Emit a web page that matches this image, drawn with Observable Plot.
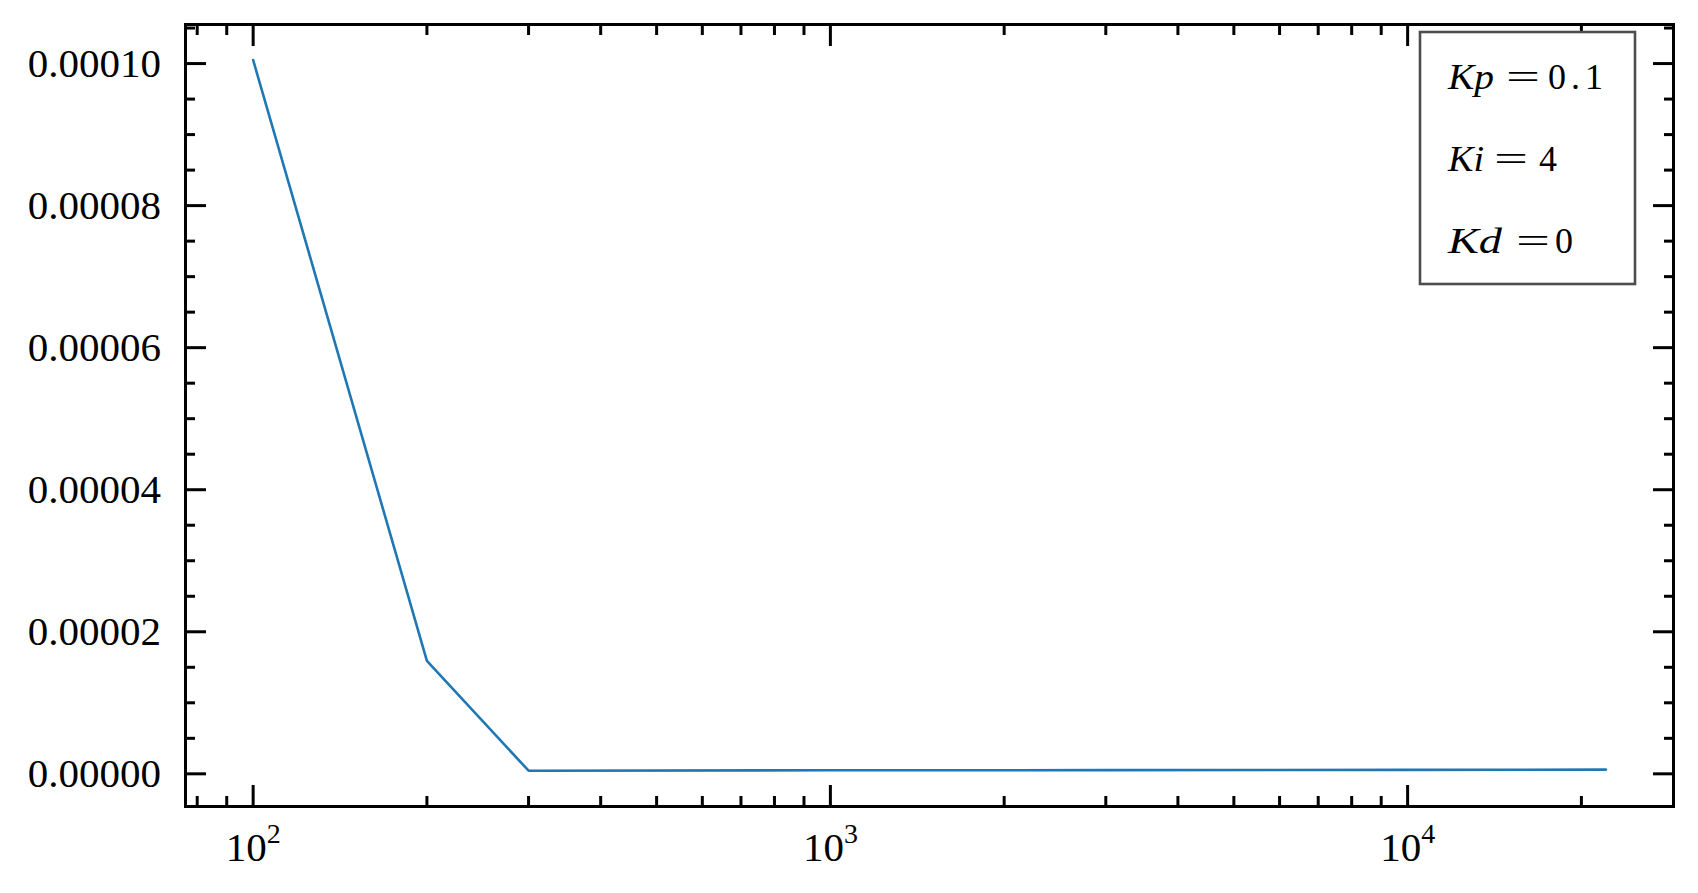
<!DOCTYPE html>
<html>
<head>
<meta charset="utf-8">
<script src="https://cdn.jsdelivr.net/npm/d3@7"></script>
<script src="https://cdn.jsdelivr.net/npm/@observablehq/plot@0.6"></script>
<style>
  html, body { margin: 0; padding: 0; background: #fff; }
  #chart { width: 1698px; height: 893px; }
</style>
</head>
<body>
<div id="chart"></div>
<script>
// ---- data ----
const frequencies = [100, 200, 300, 1000, 3000, 10000, 22050];
const errors = [0.0001005, 0.0000159, 0.00000044, 0.0000005, 0.00000052, 0.00000055, 0.00000059];

// ---- ticks ----
const xMajorTicks = [100, 1000, 10000];
const xTickExponents = ["2", "3", "4"];
const xMinorTicks = [80, 90, 200, 300, 400, 500, 600, 700, 800, 900,
  2000, 3000, 4000, 5000, 6000, 7000, 8000, 9000, 20000];
const yMajorTicks = [0, 0.00002, 0.00004, 0.00006, 0.00008, 0.0001];
const yTickLabels = ["0.00000", "0.00002", "0.00004", "0.00006", "0.00008", "0.00010"];
const yMinorTicks = [0.000005, 0.00001, 0.000015, 0.000025, 0.00003, 0.000035,
  0.000045, 0.00005, 0.000055, 0.000065, 0.00007, 0.000075,
  0.000085, 0.00009, 0.000095, 0.000105];

// ---- legend text ----
const legendNames = ["Kp", "Ki", "Kd"];
const legendValues = ["0.1", "4", "0"];

const data = frequencies.map((f, i) => ({f, e: errors[i]}));

const tickW = 3;
const majorLen = 21, minorLen = 10;
const blank = () => "";

const plot = Plot.plot({
  width: 1698,
  height: 893,
  marginLeft: 185,
  marginRight: 25,
  marginTop: 24,
  marginBottom: 87,
  style: {fontFamily: "'Liberation Serif', serif", fontSize: "41px", background: "#fff", color: "#000"},
  x: {type: "log", domain: [76.35, 28880]},
  y: {domain: [-0.0000046, 0.0001055]},
  marks: [
    Plot.line(data, {x: "f", y: "e", stroke: "#1f77b4", strokeWidth: 2.6}),
    // inward ticks, all four sides
    Plot.axisX(xMajorTicks, {anchor: "bottom", tickSize: -majorLen, strokeWidth: tickW, tickFormat: blank, label: null}),
    Plot.axisX(xMinorTicks, {anchor: "bottom", tickSize: -minorLen, strokeWidth: tickW, tickFormat: blank, label: null}),
    Plot.axisX(xMajorTicks, {anchor: "top", tickSize: -majorLen, strokeWidth: tickW, tickFormat: blank, label: null}),
    Plot.axisX(xMinorTicks, {anchor: "top", tickSize: -minorLen, strokeWidth: tickW, tickFormat: blank, label: null}),
    Plot.axisY(yMajorTicks, {anchor: "left", tickSize: -majorLen, strokeWidth: tickW, tickFormat: blank, label: null}),
    Plot.axisY(yMinorTicks, {anchor: "left", tickSize: -minorLen, strokeWidth: tickW, tickFormat: blank, label: null}),
    Plot.axisY(yMajorTicks, {anchor: "right", tickSize: -majorLen, strokeWidth: tickW, tickFormat: blank, label: null}),
    Plot.axisY(yMinorTicks, {anchor: "right", tickSize: -minorLen, strokeWidth: tickW, tickFormat: blank, label: null}),
    // tick labels
    Plot.axisX(xMajorTicks, {anchor: "bottom", tickSize: 0, tickPadding: 25, fontSize: 41,
      tickFormat: (d) => "10^" + xTickExponents[xMajorTicks.indexOf(d)], label: null}),
    Plot.axisY(yMajorTicks, {anchor: "left", tickSize: 0, tickPadding: 24.5, fontSize: 41,
      tickFormat: (d) => yTickLabels[yMajorTicks.indexOf(d)], label: null}),
    Plot.frame({stroke: "#000", strokeWidth: 3})
  ]
});

document.getElementById("chart").appendChild(plot);

const svg = d3.select(plot);

// superscript exponents in x tick labels
svg.selectAll("text").each(function () {
  const t = this.textContent;
  if (/^10\^\d+$/.test(t)) {
    const exp = t.split("^")[1];
    const sel = d3.select(this);
    sel.text(null);
    sel.append("tspan").text("10");
    sel.append("tspan").attr("dy", "-18").attr("font-size", "28px").text(exp);
  }
});

// legend box
const lg = svg.append("g")
  .attr("font-family", "'Liberation Serif', serif")
  .attr("text-anchor", "start")
  .attr("fill", "#000");
lg.append("rect")
  .attr("x", 1420).attr("y", 32).attr("width", 215).attr("height", 252)
  .attr("fill", "#fff").attr("stroke", "#4d4d4d").attr("stroke-width", 2.6);

const rowBase = [89, 171, 253];
const nameLen = [46, 36, 54];
const eqX = [1506, 1494, 1516];
const valX = [1548, 1539, 1555];
const valLen = [55, 21, 19];
legendNames.forEach((nm, i) => {
  lg.append("text").attr("x", 1448).attr("y", rowBase[i]).attr("font-size", "36px")
    .attr("font-style", "italic")
    .attr("textLength", nameLen[i]).attr("lengthAdjust", "spacingAndGlyphs").text(nm);
  lg.append("text").attr("x", eqX[i]).attr("y", rowBase[i]).attr("font-size", "36px")
    .attr("textLength", 34).attr("lengthAdjust", "spacingAndGlyphs").text("=");
  lg.append("text").attr("x", valX[i]).attr("y", rowBase[i]).attr("font-size", "36px")
    .attr("textLength", valLen[i]).attr("lengthAdjust", "spacing").text(legendValues[i]);
});
</script>
</body>
</html>
